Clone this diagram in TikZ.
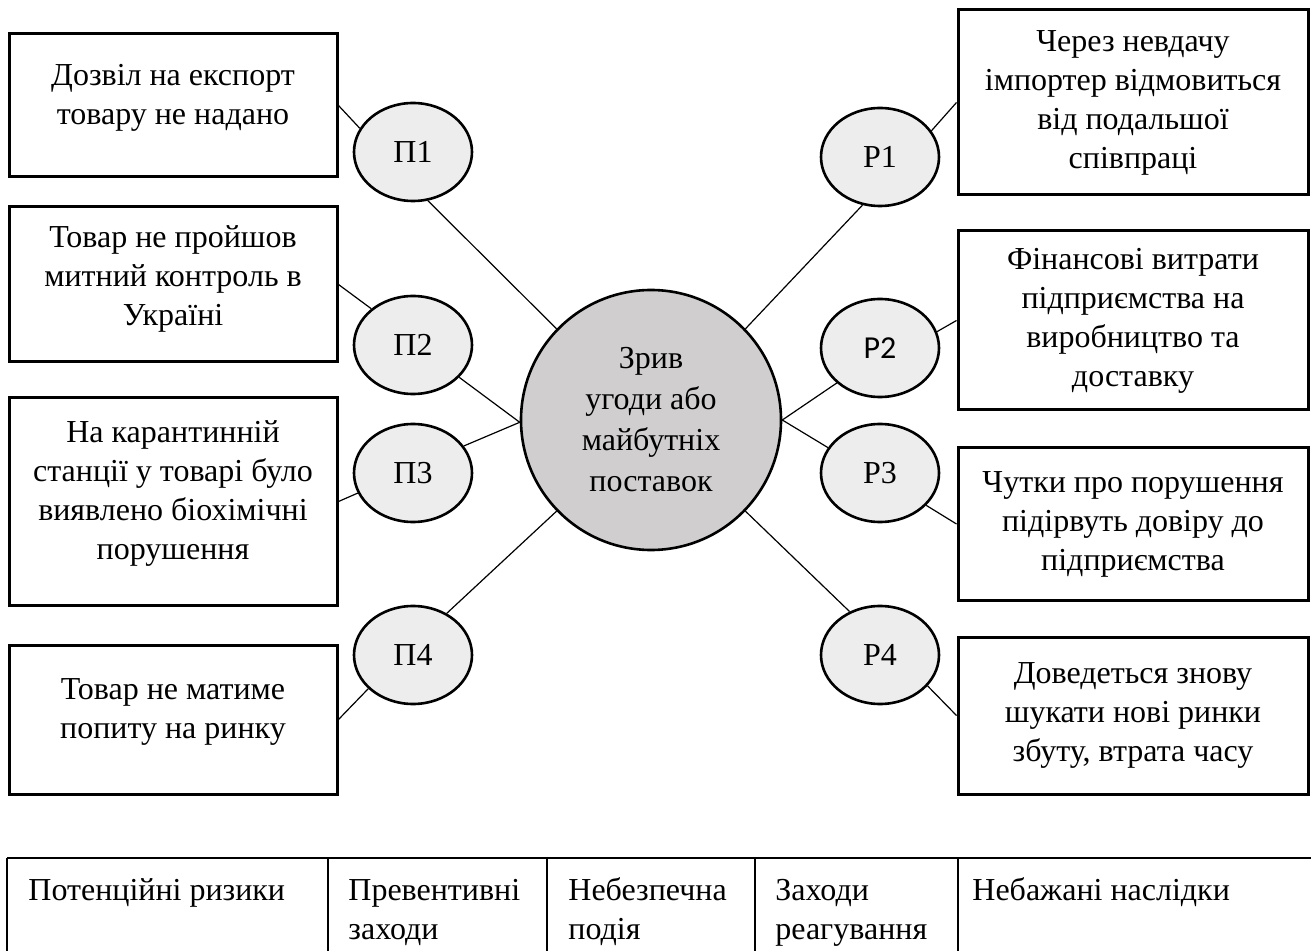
\documentclass[tikz,border=0pt]{standalone}
\usepackage{fontspec}
\setmainfont{Liberation Serif}
\newfontfamily\labelsans{Carlito}
\usetikzlibrary{shapes.geometric}
\definecolor{ellfill}{HTML}{EDEDED}
\definecolor{corefill}{HTML}{D0CECE}
\newcommand{\boxtext}[4]{\parbox[c][#2][c]{#1}{\centering #4\par\vspace{#3}}}
\newcommand{\celltext}[1]{\parbox[t]{150pt}{\raggedright #1}}
\tikzset{
  riskbox/.style={draw, line width=1.5pt, inner sep=0pt, font=\fontsize{16}{19.5}\selectfont},
  eventell/.style={ellipse, draw, line width=1.3pt, fill=ellfill, minimum width=59pt, minimum height=49pt, inner sep=0pt, font=\fontsize{16}{19.5}\selectfont},
  coreevent/.style={circle, draw, line width=1.3pt, fill=corefill, minimum size=130pt, inner sep=0pt, align=center, font=\fontsize{16}{20.5}\selectfont},
  link/.style={line width=0.6pt},
  tabline/.style={line width=0.75pt},
  tabhead/.style={anchor=base west, inner sep=0pt, font=\fontsize{16}{19.5}\selectfont}
}
\begin{document}
\begin{tikzpicture}[x=0.5pt,y=-0.5pt]
        \useasboundingbox (0,0) rectangle (1311,951);
        % potential risks
        \node[riskbox] (pot1) at (173,105.5) {\boxtext{164pt}{71.5pt}{8pt}{Дозвіл на експорт\\товару не надано}};
        \node[riskbox] (pot2) at (173,284.5) {\boxtext{164pt}{77.5pt}{6pt}{Товар не пройшов\\митний контроль в\\Україні}};
        \node[riskbox] (pot3) at (173,501.5) {\boxtext{164pt}{103.5pt}{8pt}{На карантинній\\станції у товарі було\\виявлено біохімічні\\порушення}};
        \node[riskbox] (pot4) at (173,719.5) {\boxtext{164pt}{74.5pt}{8pt}{Товар не матиме\\попиту на ринку}};
        % preventive measures
        \node[eventell] (prev1) at (413,152) {П1};
        \node[eventell] (prev2) at (413,345) {П2};
        \node[eventell] (prev3) at (413,473) {П3};
        \node[eventell] (prev4) at (413,655) {П4};
        % the event
        \node[coreevent] (core) at (651,420) {Зрив\\угоди або\\майбутніх\\поставок};
        % response measures
        \node[eventell] (resp1) at (880,157) {Р1};
        \node[eventell] (resp2) at (880,348) {\labelsans Р2};
        \node[eventell] (resp3) at (880,473) {Р3};
        \node[eventell] (resp4) at (880,655) {Р4};
        % consequences
        \node[riskbox] (cons1) at (1133,102.5) {\boxtext{175pt}{92.5pt}{0pt}{Через невдачу\\імпортер відмовиться\\від подальшої\\співпраці}};
        \node[riskbox] (cons2) at (1133,320.5) {\boxtext{175pt}{89.5pt}{0pt}{Фінансові витрати\\підприємства на\\виробництво та\\доставку}};
        \node[riskbox] (cons3) at (1133,524) {\boxtext{175pt}{76pt}{0pt}{Чутки про порушення\\підірвуть довіру до\\підприємства}};
        \node[riskbox] (cons4) at (1133,715.5) {\boxtext{175pt}{78.5pt}{0pt}{Доведеться знову\\шукати нові ринки\\збуту, втрата часу}};
        % links, left side
        \draw[link] (pot1.east) -- (prev1.156);
        \draw[link] (prev1.287) -- (core.136);
        \draw[link] (pot2.east) -- (prev2.139);
        \draw[link] (prev2.325) -- (core.181);
        \draw[link] (pot3.east) -- (prev3.200);
        \draw[link] (prev3.28) -- (core.181);
        \draw[link] (pot4.east) -- (prev4.217);
        \draw[link] (prev4.51) -- (core.224);
        % links, right side
        \draw[link] (core.44) -- (resp1.250);
        \draw[link] (resp1.27) -- (cons1.west);
        \draw[link] (core.0) -- (resp2.219);
        \draw[link] (resp2.16) -- (cons2.west);
        \draw[link] (core.0) -- (resp3.154);
        \draw[link] (resp3.325) -- (cons3.west);
        \draw[link] (core.316) -- (resp4.125);
        \draw[link] (resp4.327) -- (cons4.west);
        % legend table
        \draw[tabline] (7,858) -- (1311,858);
        \foreach \x in {7,328,547,755,958}
            \draw[tabline] (\x,858) -- (\x,951);
        \node[tabhead] (col1) at (28,900) {\celltext{Потенційні ризики}};
        \node[tabhead] (col2) at (348,900) {\celltext{Превентивні\\заходи}};
        \node[tabhead] (col3) at (568,900) {\celltext{Небезпечна\\подія}};
        \node[tabhead] (col4) at (775,900) {\celltext{Заходи\\реагування}};
        \node[tabhead] (col5) at (972,900) {\celltext{Небажані наслідки}};
    \end{tikzpicture}
\end{document}
